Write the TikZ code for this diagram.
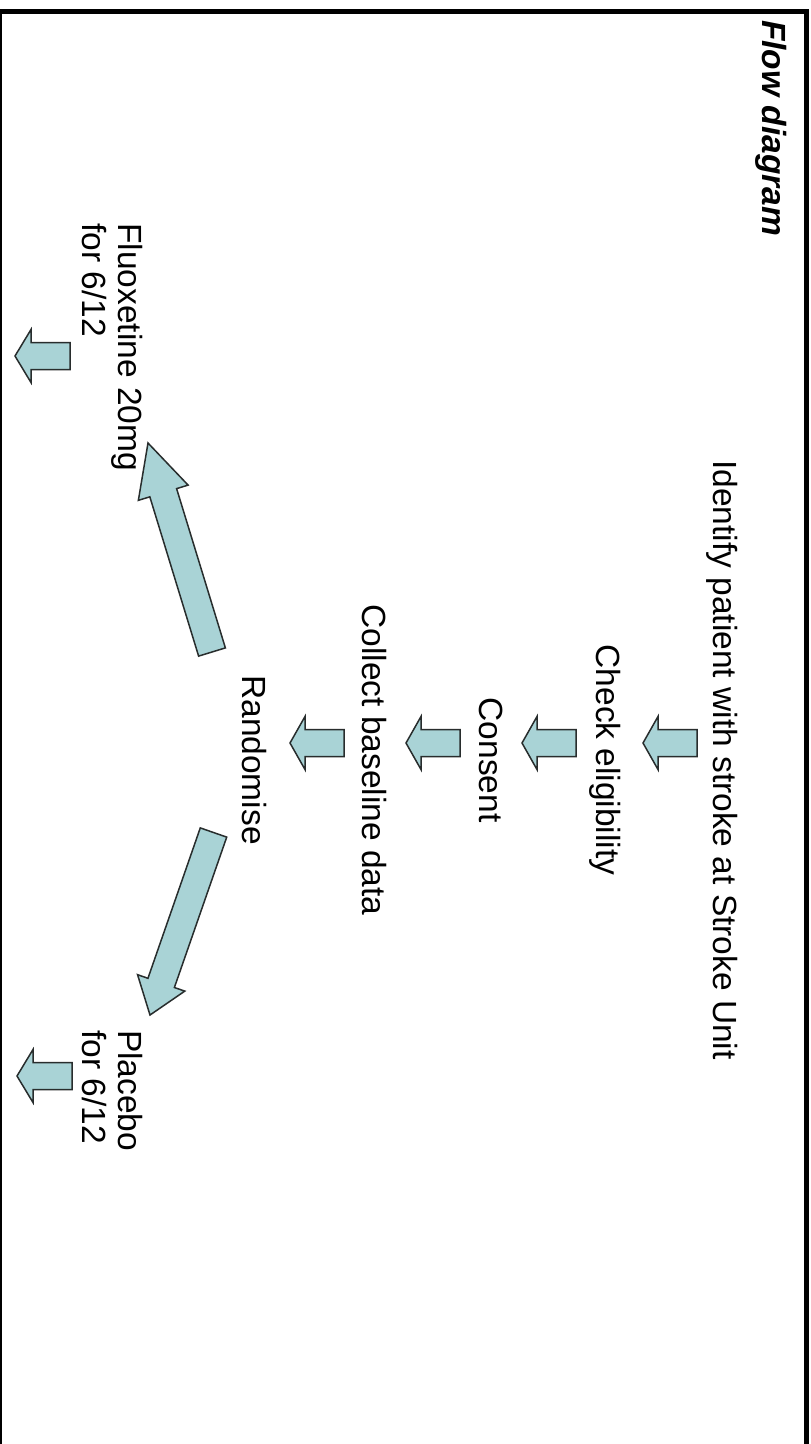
\documentclass[tikz,border=0pt]{standalone}
\usepackage{fontspec}
\setmainfont{Liberation Sans}
\usetikzlibrary{calc}
\definecolor{arrowfill}{RGB}{169,211,214}
\definecolor{arrowline}{RGB}{40,45,45}
\tikzset{
  txt/.style={rotate=-90, inner sep=0pt, font=\fontsize{33.5pt}{38pt}\selectfont},
  titletxt/.style={rotate=-90, inner sep=0pt, font=\fontsize{33.5pt}{38pt}\selectfont\bfseries\itshape},
  arrowbox/.style={fill=arrowfill, draw=arrowline, line width=1.5pt, line join=miter}
}
% from, to, half shaft width, half head width, head length
\newcommand{\myblockarrow}[5]{%
  \coordinate (hb) at ($(#2)!#5!(#1)$);
  \filldraw[arrowbox] ($(#1)!#3!90:(#2)$) -- ($(hb)!#3!90:(#2)$) -- ($(hb)!#4!90:(#2)$) -- (#2)
    -- ($(hb)!#4!-90:(#2)$) -- ($(hb)!#3!-90:(#2)$) -- ($(#1)!#3!-90:(#2)$) -- cycle;
}
\begin{document}
\begin{tikzpicture}[x=1pt, y=-1pt]
\useasboundingbox (0,0) rectangle (811,1444);
\fill[white] (0,0) rectangle (811,1444);
% frame
\draw[line width=5pt] (0,11.5) -- (806.5,11.5) -- (806.5,1444);
\draw[line width=2pt] (1,11.5) -- (1,1444);

% title
\node[titletxt, anchor=base west] (title) at (762,20) {Flow diagram};

% steps
\node[txt, anchor=base] (identify) at (713,760) {Identify patient with stroke at Stroke Unit};
\node[txt, anchor=base] (check) at (596,760) {Check eligibility};
\node[txt, anchor=base] (consent) at (479,760) {Consent};
\node[txt, anchor=base] (collect) at (362,760) {Collect baseline data};
\node[txt, anchor=base] (random) at (242,760) {Randomise};

% branches
\node[txt, anchor=base west] (fluoxA) at (118,223) {Fluoxetine 20mg};
\node[txt, anchor=base west] (fluoxB) at (82,223) {for 6/12};
\node[txt, anchor=base west] (placA) at (118,1030) {Placebo};
\node[txt, anchor=base west] (placB) at (82,1030) {for 6/12};

% arrow end points
\coordinate (s1a) at (697,743); \coordinate (s1b) at (643,743);
\coordinate (s2a) at (576,743); \coordinate (s2b) at (522,743);
\coordinate (s3a) at (460,743); \coordinate (s3b) at (406,743);
\coordinate (s4a) at (344,743); \coordinate (s4b) at (290,743);
\coordinate (s5a) at (70,356);  \coordinate (s5b) at (15,356);
\coordinate (s6a) at (72,1076); \coordinate (s6b) at (17,1076);
\coordinate (b1a) at (212,652); \coordinate (b1b) at (148,443);
\coordinate (b2a) at (213.5,832.5); \coordinate (b2b) at (150,1015);

\myblockarrow{s1a}{s1b}{13.5pt}{26.5pt}{15pt}
\myblockarrow{s2a}{s2b}{13.5pt}{26.5pt}{15pt}
\myblockarrow{s3a}{s3b}{13.5pt}{26.5pt}{15pt}
\myblockarrow{s4a}{s4b}{13.5pt}{26.5pt}{15pt}
\myblockarrow{s5a}{s5b}{13.5pt}{26.5pt}{16pt}
\myblockarrow{s6a}{s6b}{13.5pt}{26.5pt}{16pt}
\myblockarrow{b1a}{b1b}{14pt}{26pt}{52pt}
\myblockarrow{b2a}{b2b}{14pt}{25pt}{34pt}
\end{tikzpicture}
\end{document}
